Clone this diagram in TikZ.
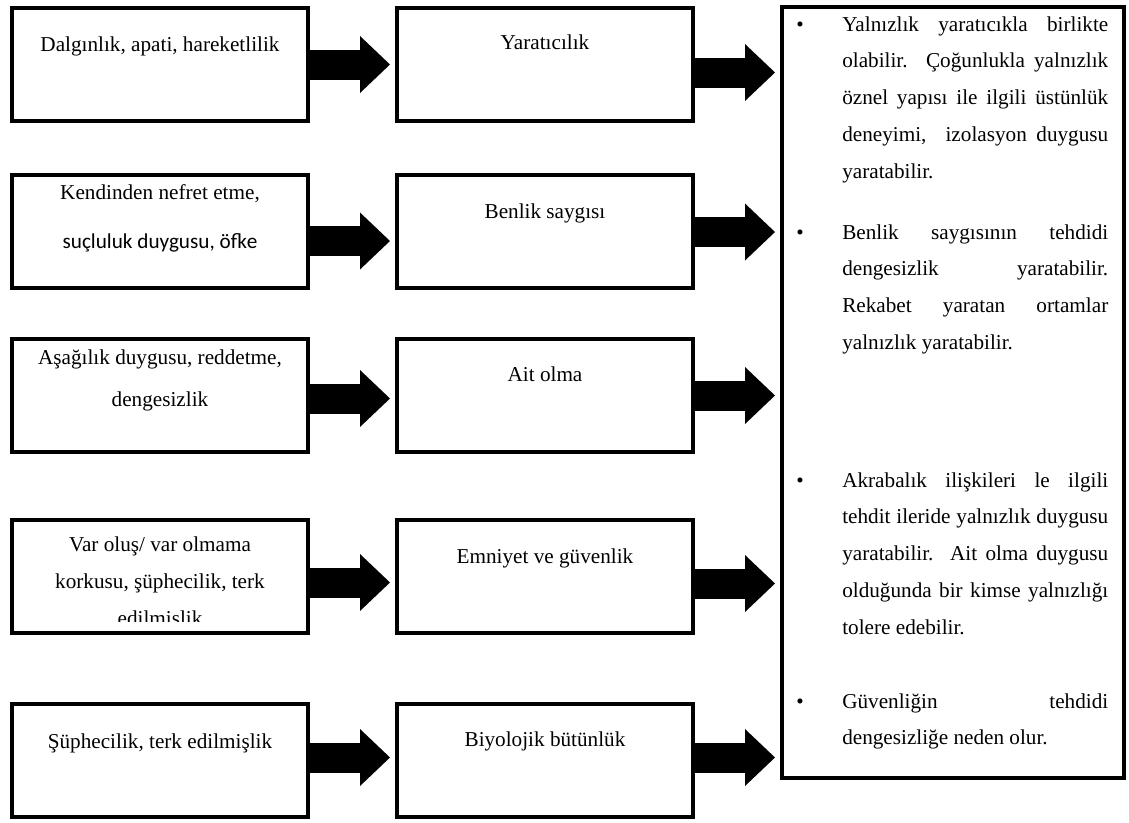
\documentclass[tikz,border=0pt]{standalone}
\usepackage{fontspec}
\setmainfont{Liberation Serif}
\newfontfamily\calibrifont{Carlito}
\usetikzlibrary{arrows.meta,calc}
\tolerance=10000
\hbadness=10000

\begin{document}
\begin{tikzpicture}[x=0.75pt,y=-0.75pt,
  box/.style={draw,line width=3pt,minimum width=222pt,minimum height=84.75pt,inner sep=0pt},
  lbl/.style={anchor=base,inner sep=0pt,align=center,font=\fontsize{15.9}{27.6}\selectfont},
  flow/.style={line width=22.5pt,shorten >=3.75pt,-{Triangle[length=22.5pt,width=42.75pt,line width=0pt]}},
  itemtext/.style={anchor=base west,inner sep=0pt,text width=199.5pt,align=justify,font=\fontsize{15.9}{27.6}\selectfont}]
\useasboundingbox (0,0) rectangle (1129,822);

% causes
\node[box] (cause1) at (160,64.5) {};
\node[box] (cause2) at (160,231) {};
\node[box] (cause3) at (160,395.5) {};
\node[box] (cause4) at (160,576.5) {};
\node[box] (cause5) at (160,760.5) {};
% multi-line labels sit on their last baseline
\node[lbl] (cause1t) at (160,51) {Dalgınlık, apati, hareketlilik};
\node[lbl] (cause2t) at (160,248) {Kendinden nefret etme,\\[9.15pt]{\calibrifont suçluluk duygusu, öfke}};
\node[lbl] (cause3t) at (160,406) {Aşağılık duygusu, reddetme,\\[3.9pt]dengesizlik};
\begin{scope}
\clip (12,519) rectangle (308,621);
\node[lbl] (cause4t) at (160,625) {Var oluş/ var olmama\\korkusu, şüphecilik, terk\\edilmişlik};
\end{scope}
\node[lbl] (cause5t) at (160,748) {Şüphecilik, terk edilmişlik};

% needs
\node[box] (need1) at (545,64.5) {};
\node[box] (need2) at (545,231) {};
\node[box] (need3) at (545,395.5) {};
\node[box] (need4) at (545,576.5) {};
\node[box] (need5) at (545,760.5) {};
\node[lbl] (need1t) at (545,49) {Yaratıcılık};
\node[lbl] (need2t) at (545,218) {Benlik saygısı};
\node[lbl] (need3t) at (545,381) {Ait olma};
\node[lbl] (need4t) at (545,563) {Emniyet ve güvenlik};
\node[lbl] (need5t) at (545,746) {Biyolojik bütünlük};

% effects
\node[box,minimum width=256.5pt,minimum height=578.25pt] (effects) at (953,392.5) {};
\node[lbl] (dot1) at (800,31) {\textbullet};
\node[itemtext] (effect1) at (842,31) {Yalnızlık yaratıcıkla birlikte\linebreak olabilir. Çoğunlukla yalnızlık\linebreak öznel yapısı ile ilgili üstünlük\linebreak deneyimi,\ \ izolasyon duygusu\linebreak yaratabilir.};
\node[lbl] (dot2) at (800,239) {\textbullet};
\node[itemtext] (effect2) at (842,239) {Benlik saygısının tehdidi\linebreak dengesizlik yaratabilir.\linebreak Rekabet yaratan ortamlar\linebreak yalnızlık yaratabilir.};
\node[lbl] (dot3) at (800,487) {\textbullet};
\node[itemtext] (effect3) at (842,487) {Akrabalık ilişkileri le ilgili\linebreak tehdit ileride yalnızlık duygusu\linebreak yaratabilir. Ait olma duygusu\linebreak olduğunda bir kimse yalnızlığı\linebreak tolere edebilir.};
\node[lbl] (dot4) at (800,708) {\textbullet};
\node[itemtext] (effect4) at (842,708) {Güvenliğin tehdidi\linebreak dengesizliğe neden olur.};

% arrows cause -> need
\draw[flow] (cause1.east) -- (need1.west);
\draw[flow] ([yshift=-7.5pt]cause2.east) -- ([yshift=-7.5pt]need2.west);
\draw[flow] ([yshift=-2.25pt]cause3.east) -- ([yshift=-2.25pt]need3.west);
\draw[flow] ([yshift=-4.5pt]cause4.east) -- ([yshift=-4.5pt]need4.west);
\draw[flow] ([yshift=2.25pt]cause5.east) -- ([yshift=2.25pt]need5.west);

% arrows need -> effects
\coordinate (out1) at ([yshift=-6pt]need1.east);
\coordinate (out2) at ([yshift=-0.75pt]need2.east);
\coordinate (out3) at (need3.east);
\coordinate (out4) at ([yshift=-5.25pt]need4.east);
\coordinate (out5) at ([yshift=2.25pt]need5.east);
\draw[flow] (out1) -- (out1 -| effects.west);
\draw[flow] (out2) -- (out2 -| effects.west);
\draw[flow] (out3) -- (out3 -| effects.west);
\draw[flow] (out4) -- (out4 -| effects.west);
\draw[flow] (out5) -- (out5 -| effects.west);
\end{tikzpicture}
\end{document}
